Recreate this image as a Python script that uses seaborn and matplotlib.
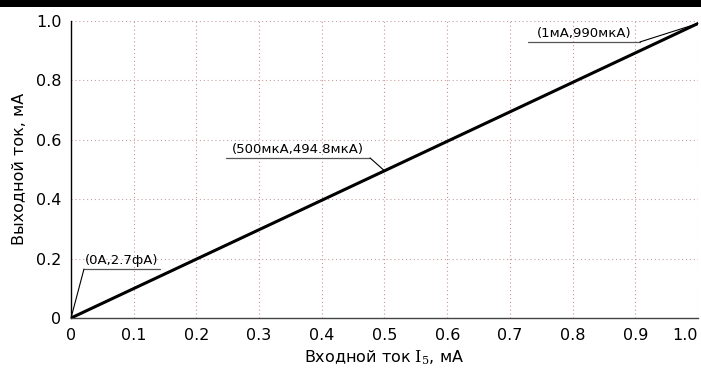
# -*- coding: utf-8 -*-
import numpy as np
import pandas as pd
import seaborn as sns
import matplotlib.pyplot as plt
from matplotlib.patches import Rectangle

# данные: входной и выходной ток, мА
x_in = [0.0, 0.5, 1.0]
y_out = [0.0, 0.4948, 0.99]

# подписи точек
point_labels = ["(0А,2.7фА)", "(500мкА,494.8мкА)", "(1мА,990мкА)"]
point_x = [0.0, 0.5, 1.0]
point_y = [0.0, 0.4948, 0.99]

x_ticks = [0.0, 0.1, 0.2, 0.3, 0.4, 0.5, 0.6, 0.7, 0.8, 0.9, 1.0]
x_tick_labels = ["0", "0.1", "0.2", "0.3", "0.4", "0.5", "0.6", "0.7", "0.8", "0.9", "1.0"]
y_ticks = [0.0, 0.2, 0.4, 0.6, 0.8, 1.0]
y_tick_labels = ["0", "0.2", "0.4", "0.6", "0.8", "1.0"]

sns.set_style("white")
plt.rcParams['font.family'] = ['DejaVu Sans']
plt.rcParams['mathtext.fontset'] = 'dejavuserif'
plt.rcParams['text.color'] = 'black'
plt.rcParams['axes.labelcolor'] = 'black'

df = pd.DataFrame({"x": x_in, "y": y_out})

fig = plt.figure(figsize=(7.01, 3.69), dpi=100)
ax = fig.add_axes([0.1013, 0.1382, 0.8944, 0.8062])

# черная полоса сверху
fig.patches.append(Rectangle((0, 0.981), 1, 0.019, transform=fig.transFigure,
                             facecolor='black', edgecolor='none'))

# сетка
for xv in x_ticks[1:]:
    ax.axvline(xv, color='#c89494', lw=0.8, ls=(0, (1, 2.5)), zorder=0)
for yv in y_ticks[1:]:
    ax.axhline(yv, color='#c8a0a0', lw=0.8, ls=(0, (1, 2.5)), zorder=0)

sns.lineplot(data=df, x="x", y="y", ax=ax, color='black', lw=2.2, zorder=3)

ax.set_xlim(0, 1.0)
ax.set_ylim(0, 1.0)
ax.set_xticks(x_ticks)
ax.set_xticklabels(x_tick_labels)
ax.set_yticks(y_ticks)
ax.set_yticklabels(y_tick_labels)
ax.tick_params(axis='both', labelsize=11.5, length=4, width=0.8,
               color='#a04040', labelcolor='black', pad=3)
# последняя подпись не должна выходить за край
for t in ax.xaxis.get_major_ticks()[-1:]:
    t.label1.set_horizontalalignment('right')

for s in ['top', 'right']:
    ax.spines[s].set_visible(False)
ax.spines['left'].set_color('black')
ax.spines['bottom'].set_color('#444444')
ax.spines['left'].set_linewidth(1.0)
ax.spines['bottom'].set_linewidth(1.0)

ax.set_xlabel(r'Входной ток $\mathrm{I}_5$, мА', fontsize=11.5, labelpad=4)
ax.set_ylabel('Выходной ток, мА', fontsize=11.5, labelpad=6)

# выноски: (лево подчеркивания, право подчеркивания, уровень, сторона крепления)
underline = [(0.0207, 0.142, 0.1647, 'left'),
             (0.247, 0.477, 0.538, 'right'),
             (0.729, 0.9075, 0.928, 'right')]

for lab, px, py, (u0, u1, uy, side) in zip(point_labels, point_x, point_y, underline):
    ax.plot([u0, u1], [uy, uy], color='#555555', lw=0.9, zorder=4, clip_on=False)
    ax_ = u0 if side == 'left' else u1
    ax.plot([ax_, px], [uy, py], color='black', lw=0.8, zorder=4, clip_on=False)
    ax.text((u0 + u1) / 2, uy + 0.008, lab, ha='center', va='bottom', fontsize=9.5)

plt.savefig("out.png", dpi=100)
